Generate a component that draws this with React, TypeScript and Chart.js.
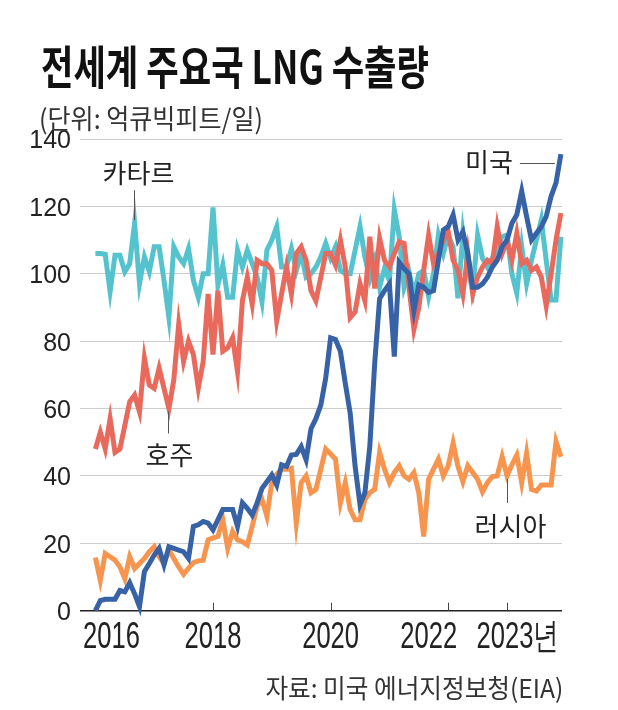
import React, { useEffect, useLayoutEffect, useRef } from 'react';
import { Chart, registerables } from 'chart.js';

Chart.register(...registerables);

// Monthly LNG exports, Jan 2016 – Dec 2023 (억큐빅피트/일)
const usExports = [
  0, 3, 3.4, 3.4, 3.4, 6, 5.6, 8.3, 5, 1.2, 11.6, 14,
  16.5, 18.5, 13.6, 19, 18.5, 18, 17.5, 15.5, 25, 25.5, 26.5, 26,
  24, 27, 30, 30, 30, 25, 32, 30.4, 28.4, 32, 36.3, 38.3,
  40.3, 37.3, 43.3, 42.8, 46.2, 46.4, 48.7, 44.8, 54, 57, 61, 69,
  81, 80.5, 77, 67.5, 58.6, 42.9, 31.5, 35, 48.8, 73.4, 92.6, 95,
  97, 75.4, 103.4, 101.5, 100, 89, 96.7, 96, 94.5, 95, 104, 113,
  114, 117.5, 110, 112.5, 106, 96, 96, 97, 99, 102, 104, 108,
  110, 115, 117.5, 124.5, 117, 110, 112, 114, 117, 123, 127, 135.5,
];

const qatarExports = [
  106, 106, 105.8, 94.7, 105.5, 105.5, 100.6, 103, 115, 97, 105, 100.6,
  108, 108, 98, 87, 108, 105, 103, 107.5, 98, 93, 100, 100,
  119.7, 96.6, 102.6, 93, 93, 107, 102, 107, 103, 99, 91.7, 107,
  110, 114, 102, 102, 107.5, 101, 106, 99, 100, 102, 105, 109,
  104.6, 108, 101, 100, 100, 107, 114, 105, 98.6, 104, 96, 101.6,
  98, 119, 111, 96, 100.6, 94, 100, 101, 93.2, 100, 111.5, 106,
  111.5, 108, 92.7, 112, 101, 95.2, 111.5, 104.6, 102, 104.6, 108, 111,
  111.5, 100, 94.2, 108, 97, 104, 110, 116, 104, 92.2, 92.2, 111,
];

const australiaExports = [
  48, 53, 48, 57, 47, 48, 55, 62, 64, 59, 75, 67,
  66, 72, 66, 60, 68.5, 85, 74, 80, 76, 66, 74, 94,
  76, 95, 77, 78, 81, 71, 92, 99, 91, 104, 103, 103,
  101, 86, 94, 102, 94, 106, 108, 104, 95, 92, 99, 106,
  106, 102.6, 110, 102, 87, 88.7, 97, 92, 111, 95.6, 110.5, 104,
  102, 106, 109.5, 109, 96, 83.5, 90, 101, 111.5, 103, 106, 110,
  112.5, 104, 101, 94, 106, 94, 99, 102, 104, 103, 114, 106,
  110, 104, 112, 103, 104, 101, 102, 99, 90.5, 100, 110, 118,
];

const russiaExports = [
  15.8, 9, 17, 16, 15, 13, 9.5, 16, 12.5, 14, 15.5, 17.5,
  19, 16, 14, 18, 15.5, 13, 10.8, 12.6, 14.3, 14.8, 15, 21,
  21.6, 22, 27, 18.5, 23.5, 21, 20.5, 19.5, 25, 31, 33, 28,
  38, 40.5, 42, 42, 42.3, 26, 38, 40, 35, 36, 42, 48,
  46.5, 45, 32, 38, 30, 27, 27, 33, 35, 36, 47, 42,
  38, 41, 43, 40, 39, 41, 35, 22, 39, 42, 45, 40,
  43, 49.7, 42.8, 38.3, 43, 41, 39, 35.3, 38, 39.8, 40, 45.7,
  40, 43.3, 46.2, 38, 46.7, 36, 35.5, 37.3, 37.3, 37.3, 50.2, 45.7,
];

const seriesNames = ['미국', '러시아', '호주', '카타르'];
const seriesColors = ['#3762a6', '#f7944d', '#e96a5c', '#55c3cd'];

const xTickMonths = [0, 24, 48, 72, 84];
const xTickLabels = ['2016', '2018', '2020', '2022', '2023년'];

const yMin = 0;
const yMax = 140;
const yStep = 20;

const titleText = '전세계 주요국 LNG 수출량';
const unitText = '(단위: 억큐빅피트/일)';
const sourceText = '자료: 미국 에너지정보청(EIA)';

const NUM_FONT = "'Liberation Sans Narrow', 'Liberation Sans', Arial, sans-serif";
const KR_FONT = "'Noto Sans CJK KR', sans-serif";

function toPoints(values: number[]) {
  return values.map((v, i) => ({ x: i, y: v }));
}

const annotatePlugin = {
  id: 'annotate',
  afterDatasetsDraw(chart: any) {
    const { ctx, chartArea, scales } = chart;
    const x = scales.x;
    const y = scales.y;
    ctx.save();

    // x tick marks
    ctx.strokeStyle = '#444';
    ctx.lineWidth = 1;
    xTickMonths.forEach((m, i) => {
      if (i === 0) return;
      const px = Math.round(x.getPixelForValue(m)) + 0.5;
      ctx.beginPath();
      ctx.moveTo(px, chartArea.bottom - 8);
      ctx.lineTo(px, chartArea.bottom);
      ctx.stroke();
    });

    // x labels (condensed)
    const sx = 0.71;
    ctx.fillStyle = '#222';
    ctx.textBaseline = 'alphabetic';
    ctx.font = `36px ${NUM_FONT}`;
    const baseY = chartArea.bottom + 37.5;
    xTickLabels.forEach((lab, i) => {
      const px = x.getPixelForValue(xTickMonths[i]);
      const w = ctx.measureText(lab).width * sx;
      let left: number;
      if (i === 0) {
        left = chartArea.left + 3;
      } else if (i === 3) {
        left = px + 9 - w;
      } else if (i === 4) {
        const w4 = ctx.measureText(lab.slice(0, 4)).width * sx;
        left = px - w4 / 2 - 2;
      } else {
        left = px - w / 2;
      }
      ctx.save();
      ctx.translate(left, baseY);
      ctx.scale(sx, 1);
      ctx.textAlign = 'left';
      ctx.fillText(lab, 0, 0);
      ctx.restore();
    });

    // series labels with leader lines
    ctx.strokeStyle = '#555';
    ctx.lineWidth = 1;
    ctx.fillStyle = '#222';
    ctx.font = `26px ${KR_FONT}`;
    ctx.textBaseline = 'middle';

    // 카타르
    {
      const px = Math.round(x.getPixelForValue(8)) - 0.5;
      const py = y.getPixelForValue(qatarExports[8]);
      ctx.beginPath();
      ctx.moveTo(px, py - 3);
      ctx.lineTo(px, py - 33);
      ctx.stroke();
      ctx.textAlign = 'center';
      ctx.fillText(seriesNames[3], px + 4, py - 50);
    }
    // 호주
    {
      const px = Math.round(x.getPixelForValue(15)) - 0.5;
      const py = y.getPixelForValue(australiaExports[15]);
      ctx.beginPath();
      ctx.moveTo(px, py + 3);
      ctx.lineTo(px, py + 25);
      ctx.stroke();
      ctx.textAlign = 'center';
      ctx.fillText(seriesNames[2], px + 1, py + 47);
    }
    // 러시아
    {
      const px = Math.round(x.getPixelForValue(84)) + 0.5;
      const py = y.getPixelForValue(russiaExports[84]);
      ctx.beginPath();
      ctx.moveTo(px, py + 3);
      ctx.lineTo(px, py + 27);
      ctx.stroke();
      ctx.textAlign = 'center';
      ctx.fillText(seriesNames[1], px + 3, py + 50);
    }
    // 미국
    {
      const last = usExports.length - 1;
      const px = x.getPixelForValue(last);
      const py = Math.round(y.getPixelForValue(usExports[last]) + 9) + 0.5;
      ctx.beginPath();
      ctx.moveTo(px - 41, py);
      ctx.lineTo(px - 6, py);
      ctx.stroke();
      ctx.textAlign = 'right';
      ctx.fillText(seriesNames[0], px - 48, py - 1);
    }

    ctx.restore();
  },
};

function FitText(props: {
  text: string;
  left?: number;
  right?: number;
  top: number;
  width: number;
  fontSize: number;
  weight?: number;
  color: string;
}) {
  const ref = useRef<HTMLSpanElement>(null);
  useLayoutEffect(() => {
    const el = ref.current;
    if (!el) return;
    el.style.transform = 'none';
    const w = el.getBoundingClientRect().width;
    if (w > 0) el.style.transform = `scaleX(${props.width / w})`;
  }, [props.text, props.width, props.fontSize]);
  const style: React.CSSProperties = {
    position: 'absolute',
    top: props.top,
    whiteSpace: 'nowrap',
    fontFamily: KR_FONT,
    fontSize: props.fontSize,
    lineHeight: `${props.fontSize}px`,
    fontWeight: props.weight ?? 400,
    color: props.color,
    transformOrigin: props.right !== undefined ? 'right top' : 'left top',
  };
  if (props.right !== undefined) style.right = props.right;
  else style.left = props.left;
  return (
    <span ref={ref} style={style}>
      {props.text}
    </span>
  );
}

export default function App() {
  const canvasRef = useRef<HTMLCanvasElement>(null);

  useEffect(() => {
    const canvas = canvasRef.current;
    if (!canvas) return;
    const datasetValues = [usExports, russiaExports, australiaExports, qatarExports];
    const chart = new Chart(canvas, {
      type: 'line',
      data: {
        datasets: datasetValues.map((vals, i) => ({
          label: seriesNames[i],
          data: toPoints(vals),
          borderColor: seriesColors[i],
          backgroundColor: seriesColors[i],
          borderWidth: 5,
          pointRadius: 0,
          tension: 0,
          fill: false,
          clip: false as any,
        })),
      },
      options: {
        responsive: false,
        animation: false,
        devicePixelRatio: 1,
        layout: { padding: { left: 0, right: 56, top: 139, bottom: 99.3 } },
        plugins: {
          legend: { display: false },
          tooltip: { enabled: false },
        },
        scales: {
          x: {
            type: 'linear',
            display: false,
            min: -3.143,
            max: 95.224,
          },
          y: {
            min: yMin,
            max: yMax,
            afterFit: (s: any) => {
              s.width = 80;
            },
            border: { display: false },
            grid: {
              drawTicks: false,
              color: (c: any) => (c.tick && c.tick.value === 0 ? '#222' : '#cccccc'),
              lineWidth: (c: any) => (c.tick && c.tick.value === 0 ? 1.5 : 1),
            },
            ticks: {
              stepSize: yStep,
              padding: 9,
              color: '#222',
              labelOffset: 2.5,
              font: { family: NUM_FONT, size: 25 },
            },
          },
        },
      },
      plugins: [annotatePlugin],
    } as any);
    return () => chart.destroy();
  }, []);

  return (
    <div
      style={{
        position: 'absolute',
        left: 0,
        top: 0,
        width: 618,
        height: 710,
        background: '#fff',
        overflow: 'hidden',
      }}
    >
      <canvas
        ref={canvasRef}
        width={618}
        height={710}
        style={{ position: 'absolute', left: 0, top: 0, width: 618, height: 710 }}
      />
      <FitText text={titleText} left={41} top={41} width={388} fontSize={46} weight={700} color="#111" />
      <FitText text={unitText} left={39} top={104} width={224} fontSize={27} color="#333" />
      <FitText text={sourceText} right={55} top={674} width={298} fontSize={26} color="#333" />
    </div>
  );
}
